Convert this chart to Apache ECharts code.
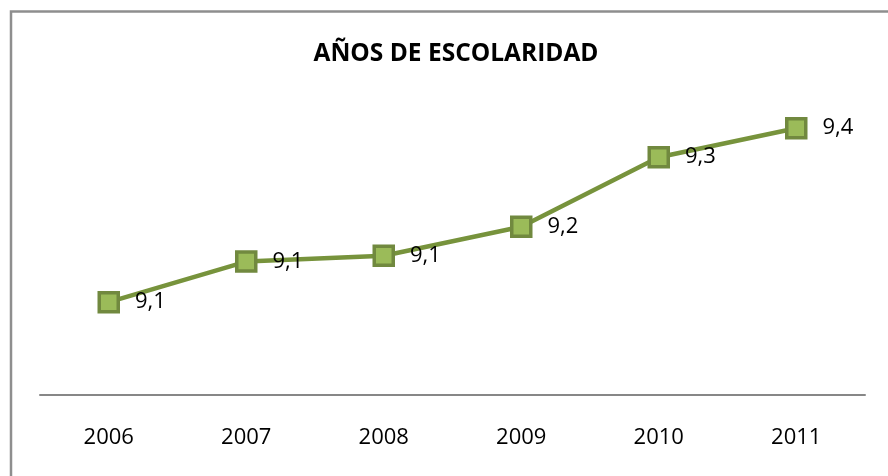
<!DOCTYPE html>
<html>
<head>
<meta charset="utf-8">
<script src="https://cdn.jsdelivr.net/npm/echarts@6/dist/echarts.min.js"></script>
<style>
html,body{margin:0;padding:0;background:#fff;}
#chart{width:888px;height:476px;}
</style>
</head>
<body>
<div id="chart"></div>
<script>
const titleText = 'AÑOS DE ESCOLARIDAD';
const years = ['2006', '2007', '2008', '2009', '2010', '2011'];
const schoolingYears = [9.06, 9.13, 9.14, 9.19, 9.31, 9.36];

const chart = echarts.init(document.getElementById('chart'), null, {renderer: 'canvas'});
const font = '"Open Sans", "Noto Sans", sans-serif';
chart.setOption({
  animation: false,
  backgroundColor: '#ffffff',
  title: {
    text: titleText,
    left: 451,
    top: 37,
    textAlign: 'center',
    textStyle: {fontFamily: font, fontWeight: 'bold', fontSize: 24.5, color: '#000'}
  },
  graphic: [{
    type: 'rect',
    shape: {x: 11, y: 11.5, width: 900, height: 500},
    style: {fill: 'none', stroke: '#8e8e8e', lineWidth: 2.5},
    silent: true
  }],
  grid: {left: 40, right: 23, top: 105, bottom: 81},
  xAxis: {
    type: 'category',
    data: years,
    boundaryGap: true,
    axisLine: {show: true, lineStyle: {color: '#878787', width: 2}},
    axisTick: {show: false},
    axisLabel: {margin: 32, fontFamily: font, fontSize: 22, color: '#000'},
    splitLine: {show: false}
  },
  yAxis: {
    type: 'value',
    min: 8.9,
    max: 9.4,
    show: false,
    splitLine: {show: false}
  },
  series: [{
    type: 'line',
    data: schoolingYears,
    symbol: 'rect',
    symbolSize: 19,
    lineStyle: {color: '#77933C', width: 4.5},
    itemStyle: {color: '#9BBB59', borderColor: '#71893F', borderWidth: 3.5},
    label: {
      show: true,
      position: 'right',
      distance: 15,
      fontFamily: font,
      fontSize: 22,
      color: '#000',
      formatter: p => p.value.toFixed(1).replace('.', ',')
    }
  }]
});
</script>
</body>
</html>
